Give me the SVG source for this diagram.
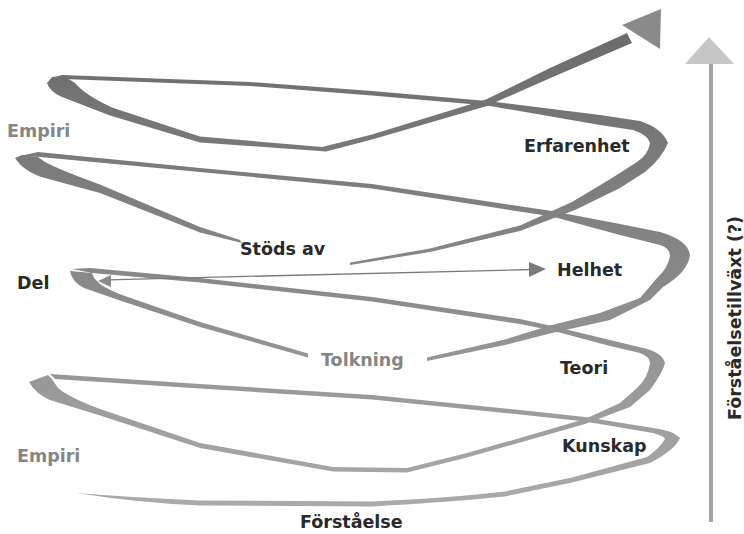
<svg xmlns="http://www.w3.org/2000/svg" width="744" height="534" viewBox="0 0 744 534">
<defs>
<linearGradient id="rib" gradientUnits="userSpaceOnUse" x1="0" y1="20" x2="0" y2="510">
<stop offset="0" stop-color="#6a6a6a"/>
<stop offset="0.5" stop-color="#878787"/>
<stop offset="1" stop-color="#ababab"/>
</linearGradient>
<style>
.rib{fill:url(#rib);stroke:none}
.lbl{font-family:"DejaVu Sans","Liberation Sans",sans-serif;font-weight:bold;font-size:17.5px;fill:#2a2a2a}
.lbl.gray{fill:#858585}
.thin{stroke:#7a7a7a;stroke-width:1.3;fill:none}
</style>
</defs>
<rect width="744" height="534" fill="#ffffff"/>
<g id="spiral">
<path class="rib" d="M76,493 Q140,503 200,505.5 L372,506.5 Q450,502 505,496.5 L572,482.5 L650,463 Q675,450 680,438 Q672,430 653,428 L585,417 L520,410 L372,395 L200,384 L50,374 L55,379 L200,388.5 L372,399.5 L520,414.5 L585,421.5 L653,433 Q664,436 665,439 Q660,448 647,457 L572,477.5 L505,491.5 Q450,498 372,501.5 L200,500.5 Q140,498 76,493 Z"/>
<path class="rib" d="M29,382 Q36,394 50,400 L100,415.5 L200,448 L333,471.5 L407,472.5 L467,457.5 L520,442.5 L585,424 L630,407 L650,390 Q663,372 665,363 Q662,352 643,348 L610,340 L552,326 L520,319 L372,297 L200,278 L90,268 L72,269 L92,273 L200,282.5 L372,301.5 L520,324 L552,330.5 L610,346 L640,353 Q650,357 650,363 Q648,378 637,388 L620,403 L585,419 L520,438 L467,453 L407,468 L333,467 L200,443 L100,409 Q70,398 58,388 L52,379 L48,375 Z"/>
<path class="rib" d="M70,271 Q72,282 84,288 L120,300.5 L200,327 L308,357.5 L308,353.5 L200,322 L125,296 Q108,290 100,284 L94,278 L92,273 Z"/>
<path class="rib" d="M427,361 L505,345 L552,333 L610,320 L650,300 L663,287 Q688,272 690,255 Q688,240 660,232 L620,224 L552,211 L372,184 L200,168 L38,152 L20,156 L40,157 L200,172 L372,188.5 L552,216.5 L620,235 L660,245 Q670,248 670,256 Q668,268 657,278 L640,298 L600,313 L550,325.5 L505,339.5 L427,357.5 Z"/>
<path class="rib" d="M15,158 Q24,172 45,178 L100,193 L200,232.5 L242,243 L240,240 L200,227 L100,184.5 Q60,170 45,162 L38,157 L22,155 Z"/>
<path class="rib" d="M350,265 L430,252 L520,231 L575,210 L620,188 L645,172 Q662,158 668,143 Q662,128 640,121 L600,115 L487,101 L372,91 L250,82 L62,75 L52,78 L64,79 L250,86 L372,95.5 L487,105.5 L600,125 L633,130 Q648,135 650,143 Q648,155 637,162 L612,178 L572,202 L520,225.5 L430,248.5 L350,262.5 Z"/>
<path class="rib" d="M47,83 Q50,92 62,97 L110,115.5 L200,142.5 L326,151.5 L372,139.5 L487,106 L555,76 L632,43 L627,33 L550,68 L486,99.5 L372,134.5 L322,147 L200,136.5 L112,107.5 Q85,95 75,83 L64,76 L52,77 Z"/>
<path d="M661,9 L622,25 L660,49 Z" fill="#8a8a8a"/>
</g>
<g id="connectors">
<g id="del-helhet">
<line class="thin" x1="108" y1="279.8" x2="532" y2="269.5"/>
<path d="M98,281 L111,275 L111,287 Z" fill="#8a8a8a"/>
<path d="M546,269 L529,262 L529,277 Z" fill="#7a7a7a"/>
</g>
<g id="axis">
<line x1="711" y1="62" x2="711" y2="522" stroke="#a5a5a5" stroke-width="4"/>
<path d="M709,37 L685,64 L734,64 Z" fill="#c6c6c6"/>
</g>
</g>
<g id="n-empiri1"><text class="lbl gray" x="7" y="137">Empiri</text></g>
<g id="n-erfarenhet"><text class="lbl" x="524" y="152">Erfarenhet</text></g>
<g id="n-stodsav"><text class="lbl" x="240" y="255">Stöds av</text></g>
<g id="n-del"><text class="lbl" x="17" y="289">Del</text></g>
<g id="n-helhet"><text class="lbl" x="557" y="276">Helhet</text></g>
<g id="n-tolkning"><text class="lbl gray" x="321" y="366">Tolkning</text></g>
<g id="n-teori"><text class="lbl" x="560" y="374">Teori</text></g>
<g id="n-kunskap"><text class="lbl" x="562" y="452">Kunskap</text></g>
<g id="n-empiri2"><text class="lbl gray" x="17" y="462">Empiri</text></g>
<g id="n-forstaelse"><text class="lbl" x="300" y="528">Förståelse</text></g>
<g id="n-axis-label"><text class="lbl" transform="translate(741,318) rotate(-90)" text-anchor="middle" font-size="15">Förståelsetillväxt (?)</text></g>
</svg>
